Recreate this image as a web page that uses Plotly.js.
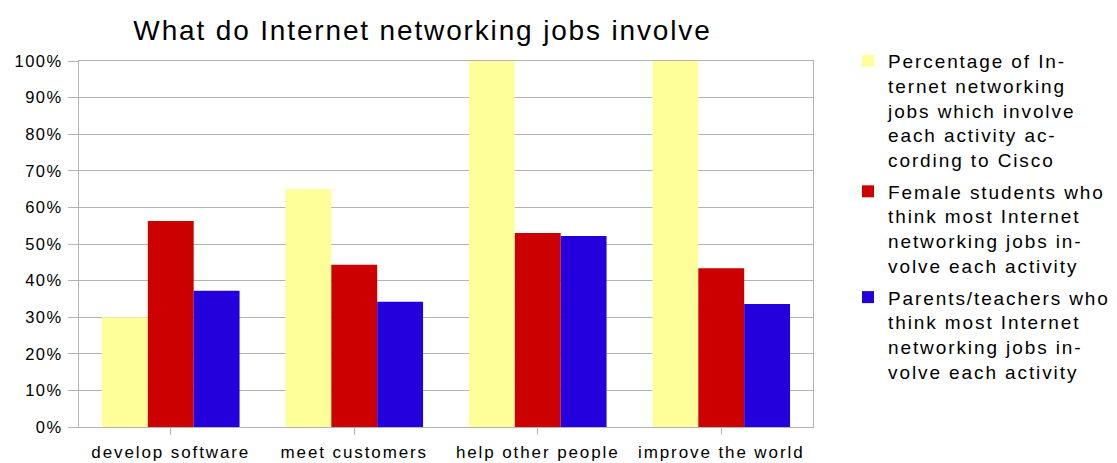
<!DOCTYPE html>
<html>
<head>
<meta charset="utf-8">
<script src="https://cdn.plot.ly/plotly-3.0.1.min.js"></script>
<style>
html,body{margin:0;padding:0;background:#fff;}
#chart{width:1117px;height:463px;}
text.legendtext{letter-spacing:1.9px;}
text.gtitle{letter-spacing:1.85px;}
.xtick text{letter-spacing:1.9px;}
.ytick text{letter-spacing:1.5px;}
</style>
</head>
<body>
<div id="chart"></div>
<script>
const categories = ["develop software", "meet customers", "help other people", "improve the world"];
const ciscoValues = [0.30, 0.65, 1.00, 1.00];
const femaleValues = [0.563, 0.443, 0.53, 0.434];
const parentValues = [0.372, 0.342, 0.522, 0.336];
const seriesNames = [
  "Percentage of In-<br>ternet networking<br>jobs which involve<br>each activity ac-<br>cording to Cisco",
  "Female students who<br>think most Internet<br>networking jobs in-<br>volve each activity",
  "Parents/teachers who<br>think most Internet<br>networking jobs in-<br>volve each activity"
];
const tickVals = [0, 0.1, 0.2, 0.3, 0.4, 0.5, 0.6, 0.7, 0.8, 0.9, 1.0];
const tickText = ["0%", "10%", "20%", "30%", "40%", "50%", "60%", "70%", "80%", "90%", "100%"];

const colors = ["#ffff99", "#cc0000", "#2300dc"];
const allValues = [ciscoValues, femaleValues, parentValues];

const traces = allValues.map((vals, i) => ({
  type: "bar",
  x: categories,
  y: vals,
  name: seriesNames[i],
  legendgroup: "g" + i,
  marker: {color: colors[i], line: {width: 0}},
  hoverinfo: "none"
}));

const font = "Liberation Sans, Arial, sans-serif";
const layout = {
  width: 1117, height: 463,
  margin: {l: 79, r: 304, t: 61, b: 36, autoexpand: false},
  paper_bgcolor: "#fff", plot_bgcolor: "#fff",
  barmode: "group",
  bargap: 0.25,
  bargroupgap: 0,
  title: {
    text: "What do Internet networking jobs involve",
    font: {family: font, size: 28, color: "#000"},
    x: 0.468, xref: "paper", xanchor: "center",
    y: 25, yref: "container", yanchor: "middle"
  },
  xaxis: {
    type: "category",
    showline: true, linecolor: "#b3b3b3", linewidth: 1, mirror: true,
    ticks: "outside", ticklen: 7, tickcolor: "#b3b3b3",
    tickfont: {family: font, size: 17, color: "#000"},
    ticklabelstandoff: 3,
    showgrid: false, zeroline: false, fixedrange: true
  },
  yaxis: {
    range: [0, 1.0],
    tickvals: tickVals, ticktext: tickText,
    showline: true, linecolor: "#b3b3b3", linewidth: 1, mirror: true,
    ticks: "outside", ticklen: 10, tickcolor: "#b3b3b3",
    showgrid: true, gridcolor: "#b3b3b3", gridwidth: 1,
    zeroline: false,
    tickfont: {family: font, size: 16.5, color: "#000"},
    ticklabelstandoff: 2,
    fixedrange: true
  },
  legend: {
    x: 1.0477, xref: "paper", xanchor: "left",
    y: 1.052, yanchor: "top",
    font: {family: font, size: 19, color: "#000"},
    valign: "top",
    tracegroupgap: 4,
    itemwidth: 30,
    maxheight: 463,
    bgcolor: "rgba(0,0,0,0)"
  },
  showlegend: true
};

Plotly.newPlot("chart", traces, layout, {displayModeBar: false, staticPlot: true});
</script>
</body>
</html>
